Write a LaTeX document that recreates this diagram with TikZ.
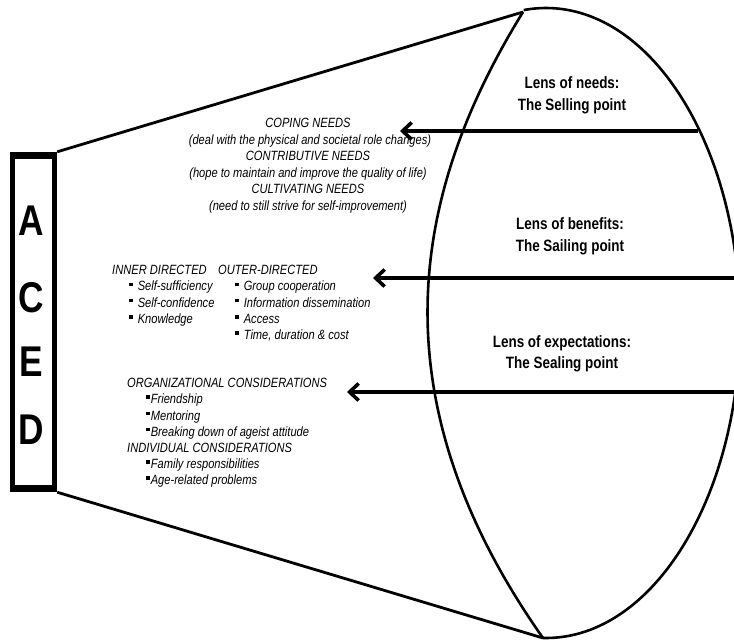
\documentclass[tikz,border=0pt]{standalone}
\usepackage{fontspec}
\setmainfont{Liberation Sans}
\newfontfamily\bodyfont{Liberation Sans}[FakeStretch=0.83]
\newfontfamily\lensfont{Liberation Sans}[FakeStretch=0.82]
\newfontfamily\acedfont{Liberation Sans}[FakeStretch=0.82]
\usetikzlibrary{arrows.meta}
\newcommand\bul{\rule[0.36em]{3.6pt}{3.6pt}}
\begin{document}
\begin{tikzpicture}[x=1pt,y=-1pt,
  body/.style={font=\bodyfont\itshape\fontsize{13.4}{15}\selectfont, inner sep=0pt},
  lenslabel/.style={font=\lensfont\bfseries\fontsize{16.4}{21.5}\selectfont, align=center, inner sep=0pt},
  letter/.style={font=\acedfont\bfseries\fontsize{43}{43}\selectfont, inner sep=0pt},
  rim/.style={line width=2.6pt},
  cone/.style={line width=2.8pt},
  arr/.style={line width=3.6pt, -{Straight Barb[length=9pt,width=17pt]}},
  ]
\useasboundingbox (0,0) rectangle (734,643);
\clip (0,0) rectangle (734,643);

% ACED box
\node (aced) [fill=black, minimum width=47pt, minimum height=340pt, inner sep=0pt] at (33.5,322) {};
\node (acedin) [fill=white, minimum width=37pt, minimum height=326pt, inner sep=0pt] at (aced.center) {};
\node[letter] (la) at (31,221) {A};
\node[letter] (lc) at (31,298) {C};
\node[letter] (le) at (31,362) {E};
\node[letter] (ld) at (31,430) {D};

% lens tips
\coordinate (ltop) at (523,12);
\coordinate (lbot) at (543,638);
\draw[cone] (aced.north east) -- (ltop);
\draw[cone] (aced.south east) -- (lbot);

% right rim (ellipse part)
\begin{scope}
  \clip (523,-10) -- (800,-10) -- (800,700) -- (545,700) -- cycle;
  \draw[rim] (546,323) ellipse [x radius=194pt, y radius=315pt];
\end{scope}
% left rim
\draw[rim] (ltop) .. controls (422,176) and (364,384) .. (lbot);

% lens labels
\node[lenslabel] (lneeds) at (572,95.5) {Lens of needs:\\The Selling point};
\node[lenslabel] (lben) at (570,236.5) {Lens of benefits:\\The Sailing point};
\node[lenslabel] (lexp) at (562,354) {Lens of expectations:\\The Sealing point};

% arrows
\coordinate (r1) at (698,131);
\coordinate (t1) at (400,131);
\coordinate (r2) at (740,278);
\coordinate (t2) at (373,278);
\coordinate (r3) at (740,392);
\coordinate (t3) at (347,392);
\draw[arr] (r1) -- (t1);
\draw[arr] (r2) -- (t2);
\draw[arr] (r3) -- (t3);

% block 1: needs
\node[body, anchor=mid] (n1) at (308,125) {COPING NEEDS};
\node[body, anchor=mid] (n2) at (310,141.5) {(deal with the physical and societal role changes)};
\node[body, anchor=mid] (n3) at (308,158) {CONTRIBUTIVE NEEDS};
\node[body, anchor=mid] (n4) at (308,174.5) {(hope to maintain and improve the quality of life)};
\node[body, anchor=mid] (n5) at (308,191) {CULTIVATING NEEDS};
\node[body, anchor=mid] (n6) at (308,207.5) {(need to still strive for self-improvement)};

% block 2: benefits
\node[body, anchor=mid west] (b1) at (112,272) {INNER DIRECTED};
\node[body, anchor=mid west] (b2) at (218,272) {OUTER-DIRECTED};
\node[body, anchor=mid west] (b3) at (129,288.3) {\bul\kern5pt Self-sufficiency};
\node[body, anchor=mid west] (b4) at (129,304.6) {\bul\kern5pt Self-confidence};
\node[body, anchor=mid west] (b5) at (129,320.9) {\bul\kern5pt Knowledge};
\node[body, anchor=mid west] (b6) at (235,288.3) {\bul\kern5pt Group cooperation};
\node[body, anchor=mid west] (b7) at (235,304.6) {\bul\kern5pt Information dissemination};
\node[body, anchor=mid west] (b8) at (235,320.9) {\bul\kern5pt Access};
\node[body, anchor=mid west] (b9) at (235,337.2) {\bul\kern5pt Time, duration \& cost};

% block 3: expectations
\node[body, anchor=mid west] (e1) at (127,385) {ORGANIZATIONAL CONSIDERATIONS};
\node[body, anchor=mid west] (e2) at (146,401.2) {\bul\kern1pt Friendship};
\node[body, anchor=mid west] (e3) at (146,417.4) {\bul\kern1pt Mentoring};
\node[body, anchor=mid west] (e4) at (146,433.6) {\bul\kern1pt Breaking down of ageist attitude};
\node[body, anchor=mid west] (e5) at (127,449.8) {INDIVIDUAL CONSIDERATIONS};
\node[body, anchor=mid west] (e6) at (146,466) {\bul\kern1pt Family responsibilities};
\node[body, anchor=mid west] (e7) at (146,482.2) {\bul\kern1pt Age-related problems};
\end{tikzpicture}
\end{document}
